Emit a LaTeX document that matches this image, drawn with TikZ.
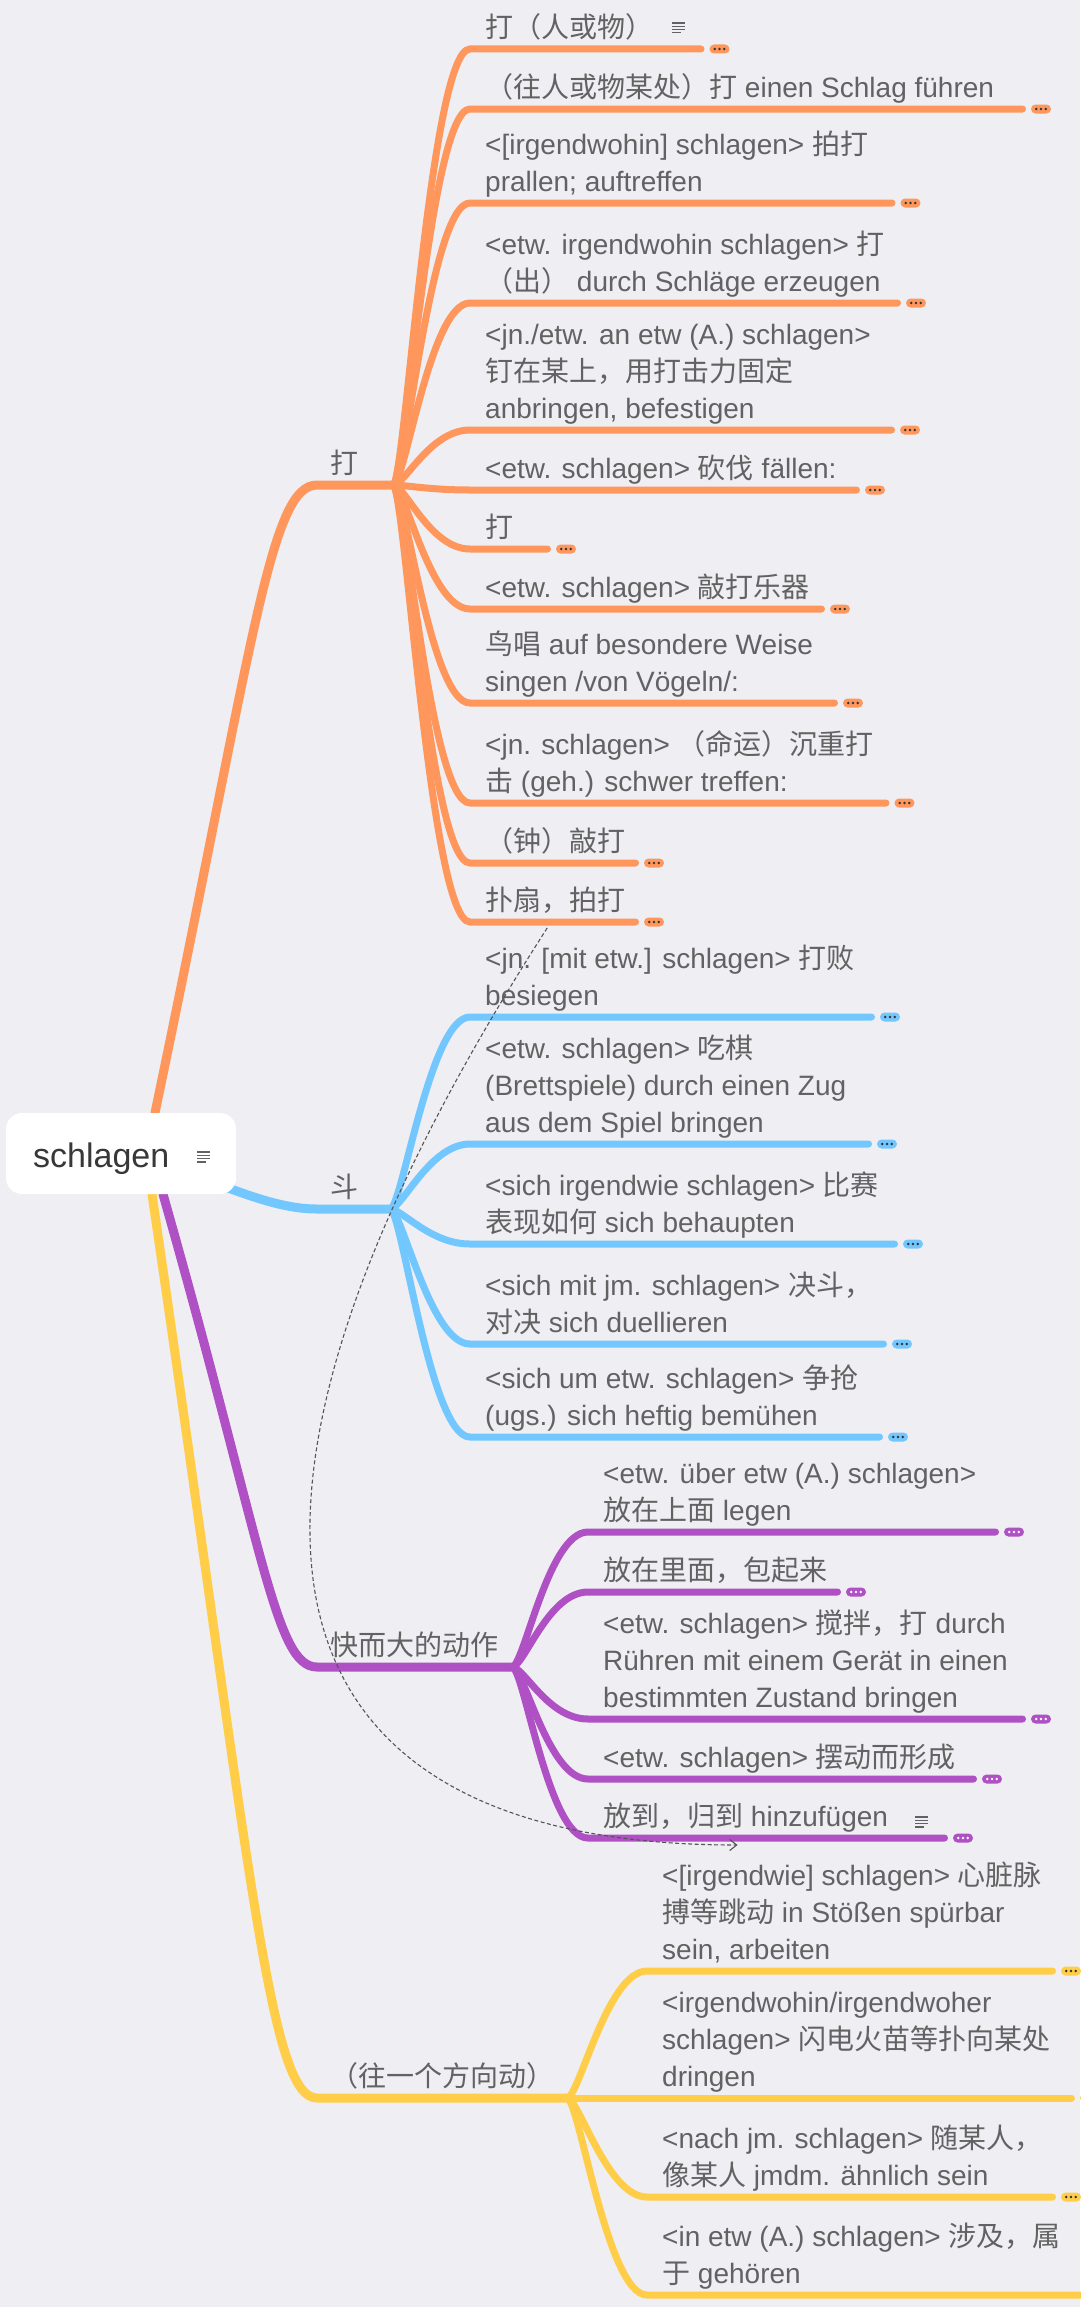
\documentclass[tikz,border=0pt]{standalone}
\usepackage{fontspec}
\setmainfont{Liberation Sans}
\newfontfamily\cjk{Noto Sans CJK SC}
\newcommand{\zh}[1]{{\cjk #1}}
\usetikzlibrary{arrows.meta}
\definecolor{bgcol}{RGB}{238,238,243}
\definecolor{dacol}{RGB}{255,151,92}
\definecolor{doucol}{RGB}{115,199,255}
\definecolor{kuaicol}{RGB}{175,80,196}
\definecolor{wangcol}{RGB}{255,205,72}
\definecolor{txtcol}{RGB}{98,98,98}
\definecolor{relcol}{RGB}{85,85,85}
\pgfdeclarelayer{back}
\pgfdeclarelayer{branches}
\pgfsetlayers{back,branches,main}
\tikzset{
    rootbox/.style={fill=white, rounded corners=16, minimum width=230, minimum height=81, inner sep=0},
    rootlab/.style={anchor=base west, inner sep=0, text=black!78, font=\fontsize{34}{40}\selectfont},
    topic/.style={anchor=south west, inner xsep=15, inner ysep=0, align=left, text=txtcol,
        font=\fontsize{28}{37}\selectfont, execute at end node=\strut},
    headword/.style={topic, inner xsep=13},
    limb/.style={line width=9, line cap=round},
    twig/.style={line width=7, line cap=round},
    more/.style 2 args={rectangle, rounded corners=4.5, minimum width=20, minimum height=9,
        inner sep=0, outer xsep=8.5, outer ysep=0, fill=#1,
        path picture={\foreach \k in {-4.8, 0, 4.8} \fill [#2] ([xshift=\k]path picture bounding box.center) circle (1.35);}},
    damore/.style={more={dacol}{black!80}},
    doumore/.style={more={doucol}{black!80}},
    kuaimore/.style={more={kuaicol}{white}},
    wangmore/.style={more={wangcol}{black!80}},
    rel/.style={relcol, line width=1.1, dash pattern=on 4pt off 2.5pt, -{Straight Barb[length=7pt, width=11pt]}},
    note/.pic={\draw [txtcol, line width=1.2] (0, 0) -- (13, 0) (0, 3.3) -- (13, 3.3) (0, 6.6) -- (13, 6.6) (0, 9.9) -- (8.5, 9.9);}
}

\begin{document}
\begin{tikzpicture}[x=1pt, y=-1pt]
    \useasboundingbox (0, 0) rectangle (1080, 2307);
    \begin{pgfonlayer}{back}
        \fill [bgcol] (0, 0) rectangle (1080, 2307);
    \end{pgfonlayer}

    \node [rootbox] (root) at (121, 1153.5) {};
    \node [rootlab] (rootlab) at (33, 1167) {schlagen};
    \pic at (197, 1152) {note};

    \node [headword] (da) at (317, 485) {\zh{打}};
    \node [headword] (dou) at (317, 1209) {\zh{斗}};
    \node [headword] (kuai) at (317, 1667) {\zh{快而大的动作}};
    \node [headword] (wang) at (317, 2098) {\zh{（往一个方向动）}};
    \coordinate (dahub) at (393, 485);
    \coordinate (douhub) at (390, 1209);
    \coordinate (kuaihub) at (512, 1667);
    \coordinate (wanghub) at (567, 2098);

    \node [topic] (o1) at (470, 49) {\zh{打（人或物）}};
    \node [topic] (o2) at (470, 109) {\zh{（往人或物某处）打} einen Schlag führen};
    \node [topic] (o3) at (470, 203) {<[irgendwohin] schlagen> \zh{拍打}\\prallen; auftreffen};
    \node [topic] (o4) at (470, 303) {<etw. irgendwohin schlagen> \zh{打}\\\zh{（出）} durch Schläge erzeugen};
    \node [topic] (o5) at (470, 430) {<jn./etw. an etw (A.) schlagen>\\\zh{钉在某上，用打击力固定}\\anbringen, befestigen};
    \node [topic] (o6) at (470, 490) {<etw. schlagen> \zh{砍伐} fällen:};
    \node [topic] (o7) at (470, 549) {\zh{打}};
    \node [topic] (o8) at (470, 609) {<etw. schlagen> \zh{敲打乐器}};
    \node [topic] (o9) at (470, 703) {\zh{鸟唱} auf besondere Weise\\singen /von Vögeln/:};
    \node [topic] (o10) at (470, 803) {<jn. schlagen> \zh{（命运）沉重打}\\\zh{击} (geh.) schwer treffen:};
    \node [topic] (o11) at (470, 863) {\zh{（钟）敲打}};
    \node [topic] (o12) at (470, 922) {\zh{扑扇，拍打}};
    \pic at (672, 23) {note};

    \node [damore] (o1m) at (719.5, 49) {};
    \node [damore] (o2m) at (1041, 109) {};
    \node [damore] (o3m) at (910.5, 203) {};
    \node [damore] (o4m) at (916, 303) {};
    \node [damore] (o5m) at (910, 430) {};
    \node [damore] (o6m) at (875, 490) {};
    \node [damore] (o7m) at (566, 549) {};
    \node [damore] (o8m) at (840, 609) {};
    \node [damore] (o9m) at (853, 703) {};
    \node [damore] (o10m) at (904.5, 803) {};
    \node [damore] (o11m) at (654, 863) {};
    \node [damore] (o12m) at (654, 922) {};

    \node [topic] (b1) at (470, 1017) {<jn. [mit etw.] schlagen> \zh{打败}\\besiegen};
    \node [topic] (b2) at (470, 1144) {<etw. schlagen> \zh{吃棋}\\(Brettspiele) durch einen Zug\\aus dem Spiel bringen};
    \node [topic] (b3) at (470, 1244) {<sich irgendwie schlagen> \zh{比赛}\\\zh{表现如何} sich behaupten};
    \node [topic] (b4) at (470, 1344) {<sich mit jm. schlagen> \zh{决斗，}\\\zh{对决} sich duellieren};
    \node [topic] (b5) at (470, 1437) {<sich um etw. schlagen> \zh{争抢}\\(ugs.) sich heftig bemühen};
    \node [doumore] (b1m) at (890, 1017) {};
    \node [doumore] (b2m) at (887, 1144) {};
    \node [doumore] (b3m) at (913, 1244) {};
    \node [doumore] (b4m) at (902, 1344) {};
    \node [doumore] (b5m) at (898, 1437) {};

    \node [topic] (p1) at (588, 1532) {<etw. über etw (A.) schlagen>\\\zh{放在上面} legen};
    \node [topic] (p2) at (588, 1592) {\zh{放在里面，包起来}};
    \node [topic] (p3) at (588, 1719) {<etw. schlagen> \zh{搅拌，打} durch\\Rühren mit einem Gerät in einen\\bestimmten Zustand bringen};
    \node [topic] (p4) at (588, 1779) {<etw. schlagen> \zh{摆动而形成}};
    \node [topic] (p5) at (588, 1838) {\zh{放到，归到} hinzufügen};
    \pic at (915, 1817) {note};
    \node [kuaimore] (p1m) at (1014, 1532) {};
    \node [kuaimore] (p2m) at (856, 1592) {};
    \node [kuaimore] (p3m) at (1041, 1719) {};
    \node [kuaimore] (p4m) at (992, 1779) {};
    \node [kuaimore] (p5m) at (963, 1838) {};

    \node [topic] (y1) at (647, 1971) {<[irgendwie] schlagen> \zh{心脏脉}\\\zh{搏等跳动} in Stößen spürbar\\sein, arbeiten};
    \node [topic] (y2) at (647, 2098) {<irgendwohin/irgendwoher\\schlagen> \zh{闪电火苗等扑向某处}\\dringen};
    \node [topic] (y3) at (647, 2197) {<nach jm. schlagen> \zh{随某人，}\\\zh{像某人} jmdm. ähnlich sein};
    \node [topic] (y4) at (647, 2295) {<in etw (A.) schlagen> \zh{涉及，属}\\\zh{于} gehören};
    \node [wangmore] (y1m) at (1071, 1971) {};
    \node [wangmore] (y2m) at (1090, 2098) {};
    \node [wangmore] (y3m) at (1071, 2197) {};
    \node [wangmore] (y4m) at (1110, 2295) {};

    \begin{pgfonlayer}{branches}
        \draw [limb, dacol] ([xshift=34]root.north) .. controls +(99, -473) and +(-47, 0) .. (da.south west) -- (dahub);
        \draw [limb, doucol] (root.center) .. controls +(79, 17) and +(-57, 0) .. (dou.south west) -- (douhub);
        \draw [limb, wangcol] ([xshift=31]root.south) .. controls +(99, 677) and +(-48, 0) .. (wang.south west) -- (wanghub);
        \draw [limb, kuaicol] ([xshift=42]root.south) .. controls +(101, 355) and +(-42, 0) .. (kuai.south west) -- (kuaihub);

        \draw [twig, dacol] (dahub) .. controls +(12, 0) and +(-40, 0) .. (o1.south west) -- (o1m.west);
        \draw [twig, dacol] (dahub) .. controls +(12, 0) and +(-40, 0) .. (o2.south west) -- (o2m.west);
        \draw [twig, dacol] (dahub) .. controls +(12, 0) and +(-40, 0) .. (o3.south west) -- (o3m.west);
        \draw [twig, dacol] (dahub) .. controls +(12, 0) and +(-40, 0) .. (o4.south west) -- (o4m.west);
        \draw [twig, dacol] (dahub) .. controls +(12, 0) and +(-40, 0) .. (o5.south west) -- (o5m.west);
        \draw [twig, dacol] (dahub) .. controls +(12, 0) and +(-40, 0) .. (o6.south west) -- (o6m.west);
        \draw [twig, dacol] (dahub) .. controls +(12, 0) and +(-40, 0) .. (o7.south west) -- (o7m.west);
        \draw [twig, dacol] (dahub) .. controls +(12, 0) and +(-40, 0) .. (o8.south west) -- (o8m.west);
        \draw [twig, dacol] (dahub) .. controls +(12, 0) and +(-40, 0) .. (o9.south west) -- (o9m.west);
        \draw [twig, dacol] (dahub) .. controls +(12, 0) and +(-40, 0) .. (o10.south west) -- (o10m.west);
        \draw [twig, dacol] (dahub) .. controls +(12, 0) and +(-40, 0) .. (o11.south west) -- (o11m.west);
        \draw [twig, dacol] (dahub) .. controls +(12, 0) and +(-40, 0) .. (o12.south west) -- (o12m.west);

        \draw [twig, doucol] (douhub) .. controls +(12, 0) and +(-40, 0) .. (b1.south west) -- (b1m.west);
        \draw [twig, doucol] (douhub) .. controls +(12, 0) and +(-40, 0) .. (b2.south west) -- (b2m.west);
        \draw [twig, doucol] (douhub) .. controls +(12, 0) and +(-40, 0) .. (b3.south west) -- (b3m.west);
        \draw [twig, doucol] (douhub) .. controls +(12, 0) and +(-40, 0) .. (b4.south west) -- (b4m.west);
        \draw [twig, doucol] (douhub) .. controls +(12, 0) and +(-40, 0) .. (b5.south west) -- (b5m.west);

        \draw [twig, kuaicol] (kuaihub) .. controls +(12, 0) and +(-40, 0) .. (p1.south west) -- (p1m.west);
        \draw [twig, kuaicol] (kuaihub) .. controls +(12, 0) and +(-40, 0) .. (p2.south west) -- (p2m.west);
        \draw [twig, kuaicol] (kuaihub) .. controls +(12, 0) and +(-40, 0) .. (p3.south west) -- (p3m.west);
        \draw [twig, kuaicol] (kuaihub) .. controls +(12, 0) and +(-40, 0) .. (p4.south west) -- (p4m.west);
        \draw [twig, kuaicol] (kuaihub) .. controls +(12, 0) and +(-40, 0) .. (p5.south west) -- (p5m.west);

        \draw [twig, wangcol] (wanghub) .. controls +(12, 0) and +(-40, 0) .. (y1.south west) -- (y1m.west);
        \draw [twig, wangcol] (wanghub) .. controls +(12, 0) and +(-40, 0) .. (y2.south west) -- (y2m.west);
        \draw [twig, wangcol] (wanghub) .. controls +(12, 0) and +(-40, 0) .. (y3.south west) -- (y3m.west);
        \draw [twig, wangcol] (wanghub) .. controls +(12, 0) and +(-40, 0) .. (y4.south west) -- (y4m.west);
    \end{pgfonlayer}

    \draw [rel] ([shift={(-8, 6)}]o12.south) .. controls +(-378, 588) and +(-487, 0) .. ([shift={(-8, 7)}]p5.south);
\end{tikzpicture}
\end{document}
